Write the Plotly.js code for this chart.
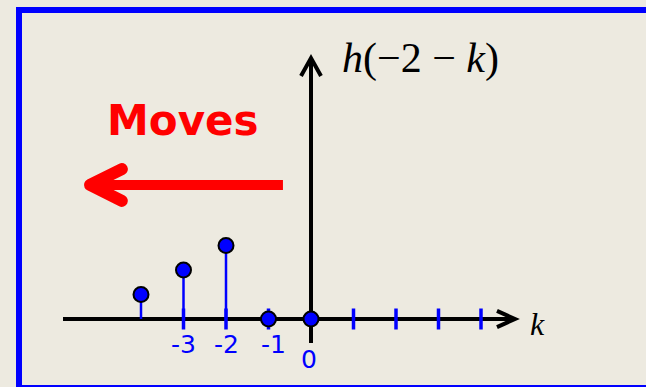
<!DOCTYPE html>
<html><head><meta charset="utf-8">
<script src="https://cdn.plot.ly/plotly-3.0.1.min.js"></script>
<style>html,body{margin:0;padding:0;background:#EDEAE0;overflow:hidden}</style>
</head><body><div id="chart" style="width:646px;height:387px"></div>
<script>
// data: h(-2-k)
const kVals = [-4, -3, -2, -1, 0];
const hVals = [1, 2, 3, 0, 0];
const tickK = [-3, -2, -1, 1, 2, 3, 4];
const labelK = [-3, -2, -1, 0];
const labelText = ["-3", "-2", "-1", "0"];
const yTitle = "<i>h</i>(−2 − <i>k</i>)";
const xTitle = "<i>k</i>";
const movesText = "Moves";

const BLUE = "#0000FF", BG = "#EDEAE0";

const stemX = [], stemY = [];
kVals.forEach((k, i) => { stemX.push(k, k, null); stemY.push(0, hVals[i], null); });

const traces = [
  { x: tickK, y: tickK.map(() => 0), mode: "markers", hoverinfo: "skip",
    marker: { symbol: "line-ns", size: 15, line: { color: BLUE, width: 3.5 } } },
  { x: stemX, y: stemY, mode: "lines", hoverinfo: "skip",
    line: { color: BLUE, width: 2.5 } },
  { x: kVals, y: hVals, mode: "markers", hoverinfo: "skip",
    marker: { symbol: "circle", size: 15, color: BLUE, line: { color: "#000", width: 2 } } }
];

const annotations = labelK.map((k, i) => ({
  x: k, y: -1.06, xref: "x", yref: "y", text: labelText[i], showarrow: false,
  xanchor: "center", yanchor: "middle",
  xshift: k === -1 ? 5 : (k === 0 ? -2 : 0), yshift: k === 0 ? -15 : 0,
  font: { family: "DejaVu Sans", size: 25, color: BLUE }
}));
annotations.push(
  { x: 2.57, y: 10.62, xref: "x", yref: "y", text: yTitle, showarrow: false,
    xanchor: "center", yanchor: "middle",
    font: { family: "Liberation Serif", size: 42, color: "#000" } },
  { x: 5.34, y: -0.2, xref: "x", yref: "y", text: xTitle, showarrow: false,
    xanchor: "center", yanchor: "middle",
    font: { family: "Liberation Serif", size: 32, color: "#000" } },
  { x: -3.02, y: 8.1, xref: "x", yref: "y", text: "<b>" + movesText + "</b>", showarrow: false,
    xanchor: "center", yanchor: "middle",
    font: { family: "DejaVu Sans", size: 42, color: "#FF0000" } }
);

const shapes = [
  // frame
  { type: "rect", xref: "paper", yref: "paper", x0: 19/646, x1: 1.05, y0: -1/387, y1: 1 - 10/387,
    line: { color: BLUE, width: 6 }, layer: "below" },
  // x axis
  { type: "line", xref: "x", yref: "y", x0: -5.835, x1: 4.78, y0: 0, y1: 0,
    line: { color: "#000", width: 4 }, layer: "below" },
  { type: "path", xref: "x", yref: "y", path: "M 4.376,0.33 L 4.8,0 L 4.376,-0.33",
    line: { color: "#000", width: 4 }, layer: "below" },
  // y axis
  { type: "line", xref: "x", yref: "y", x0: 0, x1: 0, y0: -0.98, y1: 10.6,
    line: { color: "#000", width: 4 }, layer: "below" },
  { type: "path", xref: "x", yref: "y", path: "M -0.235,9.92 L 0,10.65 L 0.235,9.92",
    line: { color: "#000", width: 4 }, layer: "below" },
  // red arrow
  { type: "path", xref: "x", yref: "y", path: "M -0.66,5.47 L -5.15,5.47",
    line: { color: "#FF0000", width: 10 }, layer: "below" },
  { type: "path", xref: "x", yref: "y", path: "M -4.45,6.12 L -5.2,5.47 L -4.45,4.82",
    line: { color: "#FF0000", width: 12 }, layer: "below" }
];

const layout = {
  width: 646, height: 387, margin: { l: 0, r: 0, t: 0, b: 0 },
  paper_bgcolor: BG, plot_bgcolor: BG, showlegend: false,
  xaxis: { range: [-311/42.5, (646-311)/42.5], visible: false, fixedrange: true },
  yaxis: { range: [-68/24.5, 319/24.5], visible: false, fixedrange: true },
  shapes: shapes, annotations: annotations
};

Plotly.newPlot("chart", traces, layout, { staticPlot: true }).then(() => {
  document.querySelectorAll(".shapelayer path").forEach(p => {
    const s = (p.style.stroke || p.getAttribute("stroke") || "").toLowerCase();
    const w = parseFloat(p.style.strokeWidth || p.getAttribute("stroke-width") || "0");
    if ((s.indexOf("255, 0, 0") >= 0 || s === "#ff0000") && w >= 11) {
      p.style.strokeLinecap = "round"; p.style.strokeLinejoin = "round";
    }
  });
});
</script></body></html>
